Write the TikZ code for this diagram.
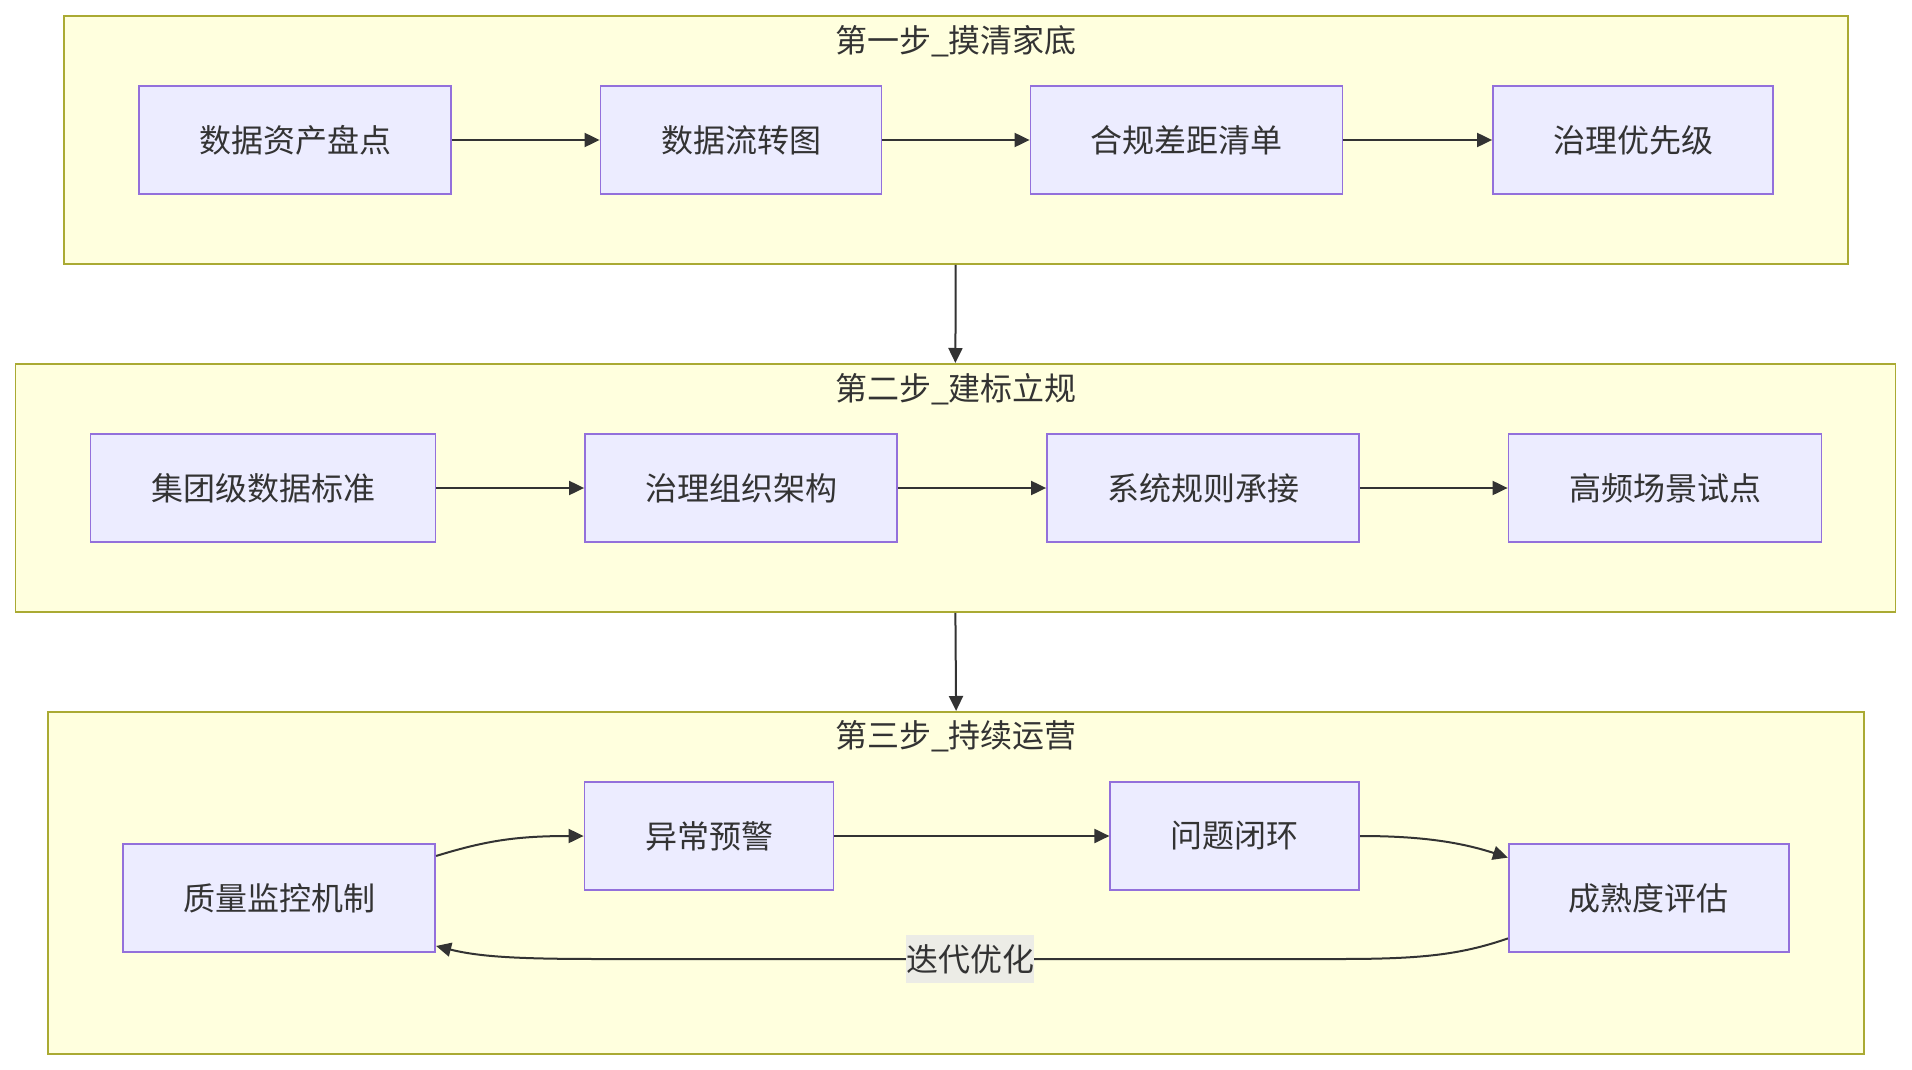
\documentclass[tikz,border=0pt]{standalone}
\usepackage{fontspec}
\setmainfont{Noto Sans CJK SC}
\usetikzlibrary{arrows.meta}
\definecolor{clfill}{HTML}{FFFFDE}
\definecolor{cldraw}{HTML}{AAAA33}
\definecolor{ndfill}{HTML}{ECECFF}
\definecolor{nddraw}{HTML}{9370DB}
\definecolor{edgec}{HTML}{333333}
\definecolor{txtc}{HTML}{333333}
\definecolor{lblbg}{HTML}{ECECE6}
\tikzset{
  cluster/.style={draw=cldraw, fill=clfill, line width=1.8pt, rectangle, inner sep=0pt},
  box/.style={draw=nddraw, fill=ndfill, line width=1.8pt, rectangle, inner sep=0pt,
    minimum height=108pt, text=txtc, font=\fontsize{32}{37}\selectfont},
  ctitle/.style={text=txtc, font=\fontsize{32}{37}\selectfont, inner sep=0pt},
  flow/.style={draw=edgec, line width=2pt, -{Triangle[length=15pt,width=14pt]}},
  elabel/.style={fill=lblbg, text=txtc, font=\fontsize{32}{37}\selectfont, inner sep=0pt,
    minimum width=128pt, minimum height=48pt}
}
\begin{document}
\begin{tikzpicture}[x=1pt,y=-1pt]
\useasboundingbox (0,0) rectangle (1912,1070);
% clusters
\node[cluster, minimum width=1784pt, minimum height=248pt] (k1) at (955.7,139.9) {};
\node[cluster, minimum width=1880pt, minimum height=248pt] (k2) at (955.4,487.9) {};
\node[cluster, minimum width=1816pt, minimum height=342pt] (k3) at (956.1,882.9) {};
\node[ctitle] (t1) at (956,41) {第一步\_摸清家底};
\node[ctitle] (t2) at (956,389) {第二步\_建标立规};
\node[ctitle] (t3) at (956,736) {第三步\_持续运营};
% row 1
\node[box, minimum width=312pt] (a1) at (295,140) {数据资产盘点};
\node[box, minimum width=281pt] (a2) at (741,140) {数据流转图};
\node[box, minimum width=312pt] (a3) at (1186.5,140) {合规差距清单};
\node[box, minimum width=280pt] (a4) at (1633,140) {治理优先级};
% row 2
\node[box, minimum width=345pt] (b1) at (263,488) {集团级数据标准};
\node[box, minimum width=312pt] (b2) at (741,488) {治理组织架构};
\node[box, minimum width=312pt] (b3) at (1203,488) {系统规则承接};
\node[box, minimum width=313pt] (b4) at (1665,488) {高频场景试点};
% row 3
\node[box, minimum width=312pt] (c1) at (279.2,898) {质量监控机制};
\node[box, minimum width=249pt] (c2) at (709,836) {异常预警};
\node[box, minimum width=249pt] (c3) at (1234.8,836) {问题闭环};
\node[box, minimum width=280pt] (c4) at (1648.8,898) {成熟度评估};
% edges
\draw[flow] (a1) -- (a2);
\draw[flow] (a2) -- (a3);
\draw[flow] (a3) -- (a4);
\draw[flow] (b1) -- (b2);
\draw[flow] (b2) -- (b3);
\draw[flow] (b3) -- (b4);
\draw[flow] (k1.south) -- (k2.north);
\draw[flow] (k2.south) -- (k3.north);
\draw[flow] (c1.15) .. controls (485,841) and (515,836) .. (c2.west);
\draw[flow] (c2) -- (c3);
\draw[flow] (c3.east) .. controls (1420,836) and (1460,842) .. (c4.164);
\draw[flow] (c4.196) .. controls (1460,955) and (1420,959) .. (1340,959)
  -- node[elabel] (lb) {迭代优化} (600,959)
  .. controls (520,959) and (480,957) .. (c1.-17);
\end{tikzpicture}
\end{document}
